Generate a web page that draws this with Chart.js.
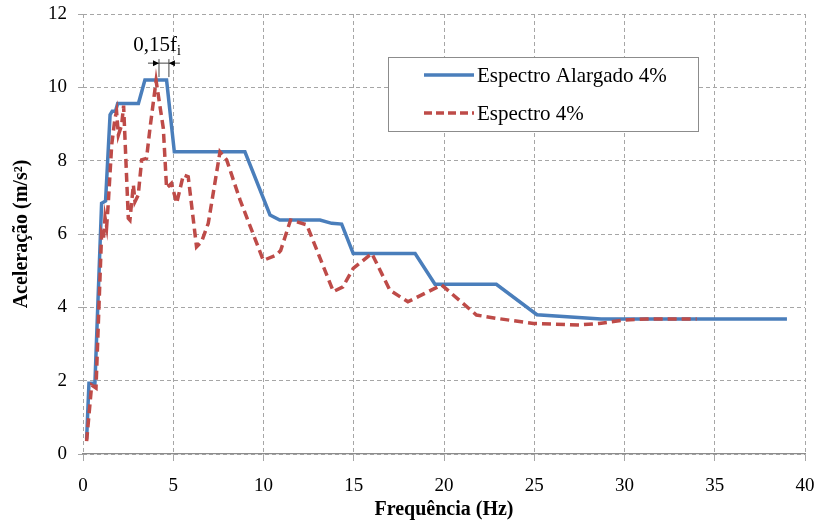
<!DOCTYPE html>
<html>
<head>
<meta charset="utf-8">
<script src="https://cdn.jsdelivr.net/npm/chart.js@4.4.1/dist/chart.umd.min.js"></script>
<style>
html,body{margin:0;padding:0;background:#fff;}
#wrap{width:814px;height:524px;position:relative;}
</style>
</head>
<body>
<div id="wrap"><canvas id="c" width="814" height="524"></canvas></div>
<script>
// ---- data ----
const seriesNames = ["Espectro Alargado 4%", "Espectro 4%"];
const freqAlargado = [0.2, 0.33, 0.66, 1.03, 1.25, 1.5, 1.62, 1.8, 1.92, 3.07, 3.43, 4.63, 5.06, 8.97, 10.36, 10.9, 13.13, 13.78, 14.33, 14.97, 18.4, 19.5, 22.9, 25.15, 28.7, 39.0];
const accAlargado  = [0.4, 1.93, 1.93, 6.84, 6.9, 9.25, 9.35, 9.35, 9.56, 9.56, 10.2, 10.2, 8.24, 8.24, 6.52, 6.38, 6.38, 6.29, 6.27, 5.47, 5.47, 4.63, 4.63, 3.8, 3.68, 3.68];
const freqEspectro = [0.2, 0.48, 0.72, 1.03, 1.13, 1.22, 1.31, 1.4, 1.59, 1.77, 1.86, 1.96, 2.14, 2.25, 2.51, 2.6, 2.79, 2.88, 3.06, 3.25, 3.52, 3.71, 4.05, 4.45, 4.63, 4.9, 5.19, 5.56, 5.83, 6.29, 6.57, 6.94, 7.59, 7.96, 8.7, 9.99, 10.73, 10.95, 11.5, 12.4, 13.87, 14.4, 14.97, 16.0, 17.0, 18.0, 19.87, 21.8, 22.9, 24.95, 27.5, 28.6, 29.9, 31.2, 34.0];
const accEspectro  = [0.35, 1.88, 1.8, 6.0, 5.84, 6.45, 6.2, 6.84, 8.43, 9.15, 9.34, 8.7, 8.97, 9.5, 6.43, 6.38, 7.34, 6.88, 7.06, 8.02, 8.06, 8.88, 10.18, 8.88, 7.25, 7.38, 6.84, 7.61, 7.56, 5.65, 5.79, 6.29, 8.24, 8.02, 6.93, 5.28, 5.43, 5.55, 6.38, 6.25, 4.43, 4.56, 5.06, 5.47, 4.47, 4.15, 4.61, 3.79, 3.70, 3.56, 3.52, 3.56, 3.65, 3.68, 3.68];
const xTicks = [0, 5, 10, 15, 20, 25, 30, 35, 40];
const yTicks = [0, 2, 4, 6, 8, 10, 12];
const annotationText = "0,15f";
const annotationSub = "i";
const annotationFrom = 4.21, annotationTo = 4.76; // Hz

// ---- styles ----
const BLUE = "#4A7EBB", RED = "#BE4B48";
const SERIF = "'Liberation Serif','Times New Roman',serif";

const toPts = (xs, ys) => xs.map((x, i) => ({x, y: ys[i]}));

const legendPlugin = {
  id: 'boxLegend',
  afterDraw(chart) {
    const ctx = chart.ctx;
    ctx.save();
    const bx = 388, by = 57, bw = 310, bh = 74;
    ctx.fillStyle = '#fff';
    ctx.fillRect(bx, by, bw, bh);
    ctx.strokeStyle = '#8c8c8c';
    ctx.lineWidth = 1;
    ctx.strokeRect(bx + 0.5, by + 0.5, bw, bh);
    const rows = [{y: 75, color: BLUE, dash: []}, {y: 113, color: RED, dash: [8, 4]}];
    rows.forEach((r, i) => {
      ctx.beginPath();
      ctx.setLineDash(r.dash);
      ctx.strokeStyle = r.color;
      ctx.lineWidth = 3.5;
      ctx.lineCap = 'butt';
      ctx.moveTo(424, r.y); ctx.lineTo(474, r.y);
      ctx.stroke();
      ctx.setLineDash([]);
      ctx.fillStyle = '#000';
      ctx.font = '21px ' + SERIF;
      ctx.textBaseline = 'middle';
      ctx.textAlign = 'left';
      ctx.fillText(seriesNames[i], 477, r.y + 1);
    });
    ctx.restore();
  }
};

const annotPlugin = {
  id: 'annot',
  afterDatasetsDraw(chart) {
    const {ctx, scales: {x, y}} = chart;
    const x1 = x.getPixelForValue(annotationFrom), x2 = x.getPixelForValue(annotationTo);
    const yTop = y.getPixelForValue(10.77), yBot = y.getPixelForValue(10.28), yMid = y.getPixelForValue(10.66);
    ctx.save();
    ctx.strokeStyle = '#444'; ctx.lineWidth = 1;
    ctx.beginPath();
    ctx.moveTo(x1, yTop); ctx.lineTo(x1, yBot);
    ctx.moveTo(x2, yTop); ctx.lineTo(x2, yBot);
    ctx.moveTo(x1 - 11, yMid); ctx.lineTo(x2 + 11, yMid);
    ctx.stroke();
    ctx.fillStyle = '#000';
    ctx.beginPath();
    ctx.moveTo(x1, yMid); ctx.lineTo(x1 - 6, yMid - 3); ctx.lineTo(x1 - 6, yMid + 3); ctx.closePath();
    ctx.moveTo(x2, yMid); ctx.lineTo(x2 + 6, yMid - 3); ctx.lineTo(x2 + 6, yMid + 3); ctx.closePath();
    ctx.fill();
    ctx.font = '21px ' + SERIF;
    ctx.textBaseline = 'alphabetic';
    ctx.textAlign = 'left';
    const w1 = ctx.measureText(annotationText).width;
    ctx.font = '14px ' + SERIF;
    const w2 = ctx.measureText(annotationSub).width;
    const cx = (x1 + x2) / 2 - 7;
    const sx = cx - (w1 + w2) / 2;
    const base = y.getPixelForValue(10.98);
    ctx.font = '21px ' + SERIF;
    ctx.fillText(annotationText, sx, base);
    ctx.font = '14px ' + SERIF;
    ctx.fillText(annotationSub, sx + w1, base + 4);
    ctx.restore();
  }
};

new Chart(document.getElementById('c'), {
  type: 'line',
  data: {
    datasets: [
      {label: seriesNames[0], data: toPts(freqAlargado, accAlargado), borderColor: BLUE, borderWidth: 3.5, pointRadius: 0, tension: 0, fill: false, order: 2},
      {label: seriesNames[1], data: toPts(freqEspectro, accEspectro), borderColor: RED, borderWidth: 3.5, borderDash: [9, 5], pointRadius: 0, tension: 0, fill: false, order: 1}
    ]
  },
  options: {
    responsive: false,
    animation: false,
    layout: {padding: {left: 0, right: 9, top: 14, bottom: 0}},
    plugins: {legend: {display: false}, tooltip: {enabled: false}},
    scales: {
      x: {
        type: 'linear', min: 0, max: 40,
        afterBuildTicks: s => { s.ticks = xTicks.map(v => ({value: v})); },
        afterFit: s => { s.height = 70; s.paddingLeft = 0; s.paddingRight = 0; },
        ticks: {font: {family: SERIF, size: 19}, color: '#000', padding: 14, maxRotation: 0},
        grid: {color: '#a6a6a6', tickLength: 7, tickColor: '#a6a6a6'},
        border: {display: true, color: '#8c8c8c', width: 1.3, dash: [4, 3]},
        title: {display: true, text: 'Frequência (Hz)', font: {family: SERIF, size: 20, weight: 'bold'}, color: '#000', padding: {top: 0, bottom: 2}}
      },
      y: {
        min: 0, max: 12,
        afterBuildTicks: s => { s.ticks = yTicks.map(v => ({value: v})); },
        afterFit: s => { s.width = 83; s.paddingTop = 0; s.paddingBottom = 0; },
        ticks: {font: {family: SERIF, size: 19}, color: '#000', padding: 11},
        grid: {color: '#a6a6a6', tickLength: 5, tickColor: '#a6a6a6'},
        border: {display: false, dash: [4, 3]},
        title: {display: true, text: 'Aceleração (m/s²)', font: {family: SERIF, size: 20, weight: 'bold'}, color: '#000', padding: {top: 10, bottom: 0}}
      }
    }
  },
  plugins: [annotPlugin, legendPlugin]
});
</script>
</body>
</html>
